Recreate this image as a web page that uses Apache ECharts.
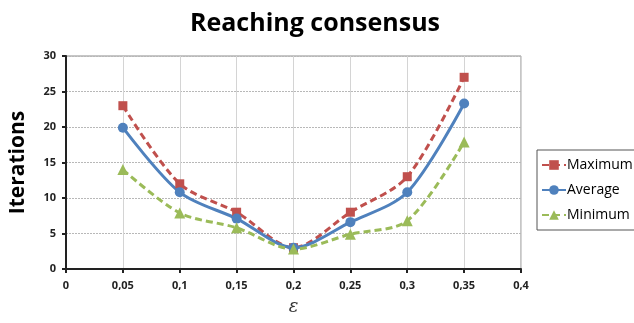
<!DOCTYPE html>
<html><head><meta charset="utf-8">
<script src="https://cdn.jsdelivr.net/npm/echarts@6/dist/echarts.min.js"></script>
<style>html,body{margin:0;padding:0;background:#fff}#c{width:634px;height:323px}</style>
</head><body><div id="c"></div>
<script>
const epsilon = [0.05, 0.1, 0.15, 0.2, 0.25, 0.3, 0.35];
const maximum = [23, 12, 8, 3, 8, 13, 27];
const average = [19.9, 10.8, 7.1, 3, 6.6, 10.8, 23.3];
const minimum = [14, 7.9, 5.8, 2.8, 4.9, 6.8, 17.9];
const seriesNames = ['Maximum', 'Average', 'Minimum'];
const colors = ['#C0504D', '#4F81BD', '#9BBB59'];

const pairs = arr => epsilon.map((x, i) => [x, arr[i]]);
const chart = echarts.init(document.getElementById('c'));
const fmt = v => String(+v.toFixed(2)).replace('.', ',');
chart.setOption({
  animation: false,
  title: { text: 'Reaching consensus', left: 310, top: 6, textAlign: 'center',
    textStyle: { fontFamily: 'Open Sans', fontWeight: 'bold', fontSize: 25, color: '#000' } },
  grid: { left: 64, right: 113, top: 56, bottom: 54, show: true, borderColor: '#8c8c8c', borderWidth: 1 },
  legend: {
    orient: 'vertical', left: 537, top: 150, width: 110,
    padding: [8, 4, 8, 4], itemGap: 11, itemWidth: 24, itemHeight: 12,
    borderColor: '#555', borderWidth: 1,
    textStyle: { fontFamily: 'Open Sans', fontSize: 14, color: '#000', padding: [0, 0, 0, -4] },
    data: seriesNames
  },
  xAxis: {
    type: 'value', min: 0, max: 0.4, interval: 0.05,
    name: 'ε', nameLocation: 'middle', nameGap: 29,
    nameTextStyle: { fontFamily: 'DejaVu Serif', fontStyle: 'italic', fontSize: 18, color: '#333' },
    axisLine: { lineStyle: { color: '#222', width: 2 } },
    axisTick: { show: true, length: 4, lineStyle: { color: '#222', width: 2 } },
    axisLabel: { formatter: fmt, fontFamily: 'Open Sans', fontWeight: 'bold', fontSize: 11, color: '#222', margin: 11 },
    splitLine: { show: true, lineStyle: { color: '#d4d4d4', width: 1 } }
  },
  yAxis: {
    type: 'value', min: 0, max: 30, interval: 5,
    name: 'Iterations', nameLocation: 'middle', nameGap: 37, nameRotate: 90,
    nameTextStyle: { fontFamily: 'Open Sans', fontWeight: 'bold', fontSize: 21, color: '#000' },
    axisLine: { show: true, lineStyle: { color: '#222', width: 2 } },
    axisTick: { show: true, length: 4, lineStyle: { color: '#222', width: 2 } },
    axisLabel: { fontFamily: 'Open Sans', fontWeight: 'bold', fontSize: 11, color: '#222', margin: 10 },
    splitLine: { show: true, lineStyle: { color: '#b8b8b8', width: 1, type: [2, 1] } }
  },
  series: [
    { name: seriesNames[0], type: 'line', smooth: 0.3, data: pairs(maximum),
      symbol: 'rect', symbolSize: 9, color: colors[0],
      lineStyle: { width: 3, type: [7, 4], color: colors[0] }, itemStyle: { color: colors[0] } },
    { name: seriesNames[1], type: 'line', smooth: 0.3, data: pairs(average),
      symbol: 'circle', symbolSize: 10, color: colors[1],
      lineStyle: { width: 3, color: colors[1] }, itemStyle: { color: colors[1] } },
    { name: seriesNames[2], type: 'line', smooth: 0.3, data: pairs(minimum),
      symbol: 'triangle', symbolSize: 11, color: colors[2],
      lineStyle: { width: 3, type: [7, 4], color: colors[2] }, itemStyle: { color: colors[2] } }
  ]
});
</script></body></html>
